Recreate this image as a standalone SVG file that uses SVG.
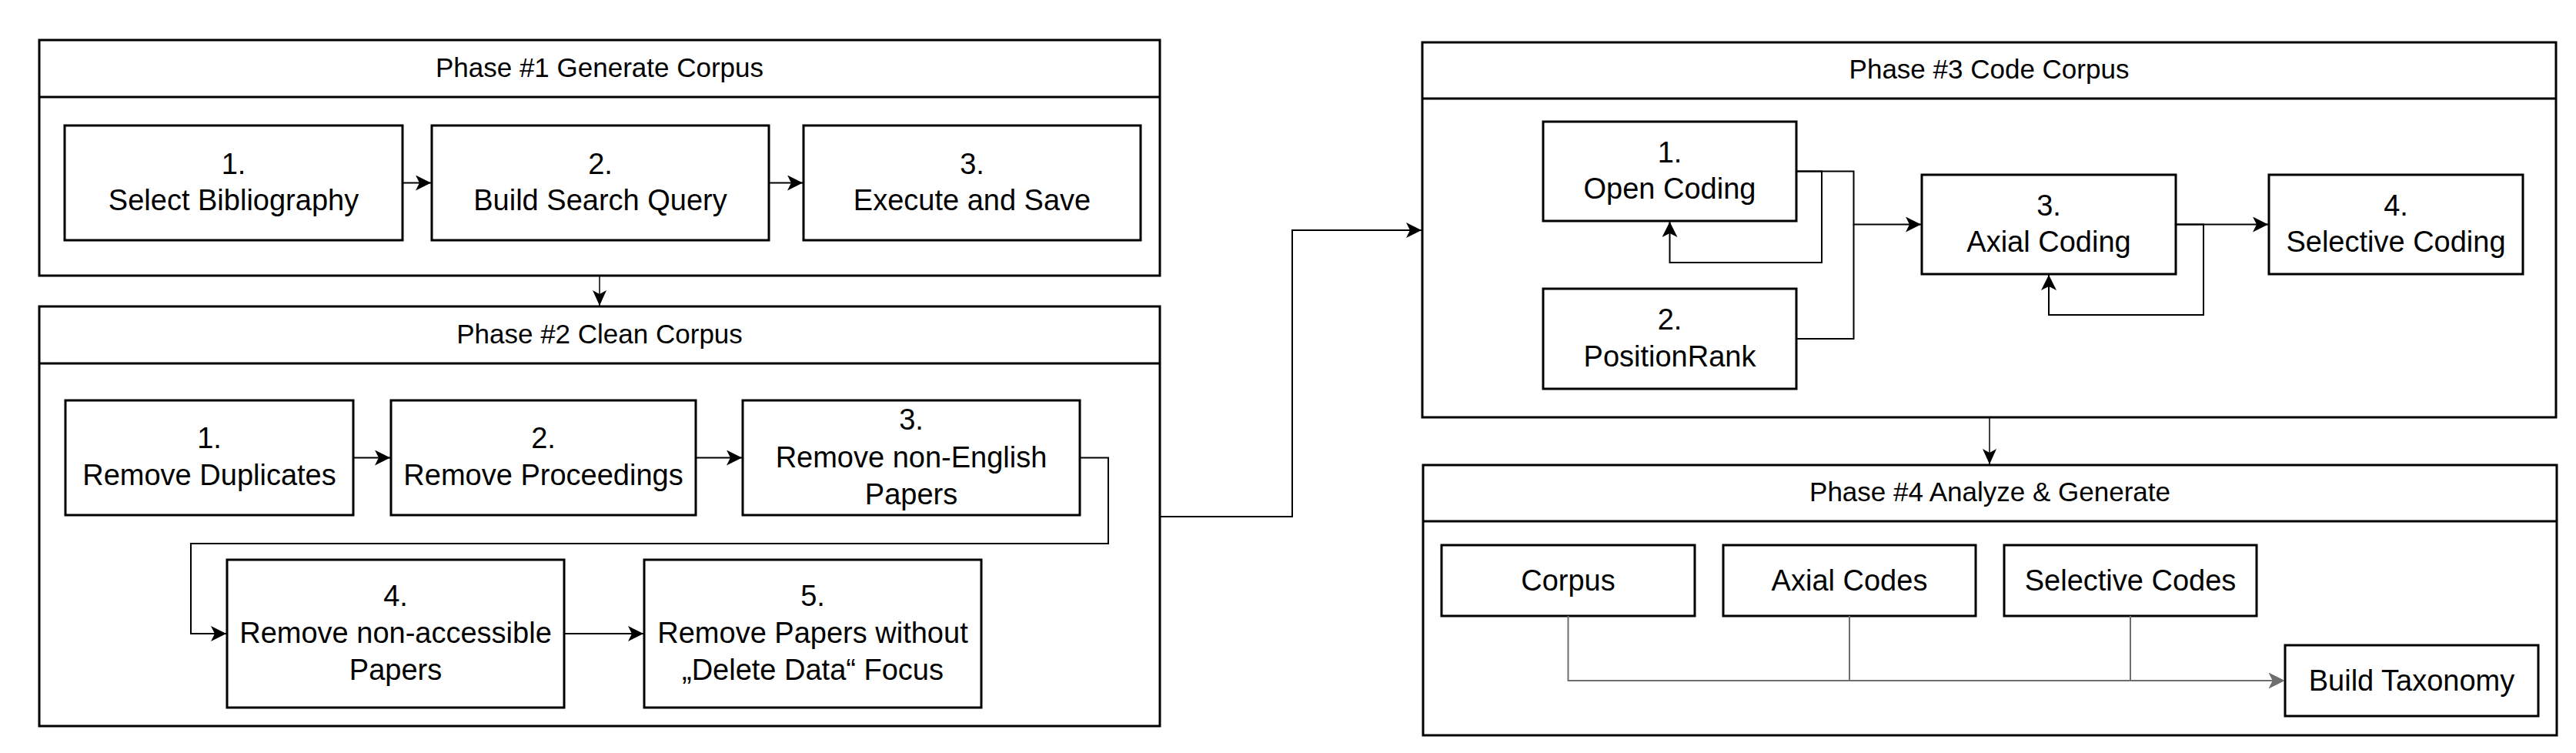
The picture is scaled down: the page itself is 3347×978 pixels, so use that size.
<svg xmlns="http://www.w3.org/2000/svg" width="3347" height="978" viewBox="0 0 3347 978">
<defs>
<marker id="arr" markerUnits="userSpaceOnUse" markerWidth="20" markerHeight="20" refX="20" refY="10" orient="auto"><path d="M0,0 L20,10 L0,20 L5,10 Z" fill="#000"/></marker>
<marker id="arrs" markerUnits="userSpaceOnUse" markerWidth="20" markerHeight="20" refX="20" refY="10" orient="auto"><path d="M0,1 L20,10 L0,19 L5,10 Z" fill="#000"/></marker>
<marker id="arrg" markerUnits="userSpaceOnUse" markerWidth="20" markerHeight="20" refX="20" refY="10" orient="auto"><path d="M0,0 L20,10 L0,20 L5,10 Z" fill="#6e6e6e"/></marker>
</defs>
<style>
.ph{fill:#fff;stroke:#000;stroke-width:3}
.dv{stroke:#000;stroke-width:3}
.bx{fill:#fff;stroke:#000;stroke-width:3}
.t{font-family:"Liberation Sans",Arial,sans-serif;font-size:38px;fill:#000;text-anchor:middle}
.tt{font-family:"Liberation Sans",Arial,sans-serif;font-size:35px;fill:#000;text-anchor:middle}
.c{fill:none;stroke:#000;stroke-width:2}
.cs{fill:none;stroke:#000;stroke-width:1.5}
.cg{fill:none;stroke:#6e6e6e;stroke-width:2}
</style>
<rect width="3347" height="978" fill="#fff"/>

<g id="phase1">
<rect class="ph" x="51" y="52" width="1456" height="306"/>
<line class="dv" x1="51" y1="126" x2="1507" y2="126"/>
<text class="tt" x="779" y="100">Phase #1 Generate Corpus</text>
</g>
<g id="p1s1"><rect class="bx" x="84" y="163" width="439" height="149"/><text class="t" x="303.5" y="226">1.</text><text class="t" x="303.5" y="273">Select Bibliography</text></g>
<g id="p1s2"><rect class="bx" x="561" y="163" width="438" height="149"/><text class="t" x="780" y="226">2.</text><text class="t" x="780" y="273">Build Search Query</text></g>
<g id="p1s3"><rect class="bx" x="1044" y="163" width="438" height="149"/><text class="t" x="1263" y="226">3.</text><text class="t" x="1263" y="273">Execute and Save</text></g>

<g id="phase2">
<rect class="ph" x="51" y="398" width="1456" height="545"/>
<line class="dv" x1="51" y1="472" x2="1507" y2="472"/>
<text class="tt" x="779" y="446">Phase #2 Clean Corpus</text>
</g>
<g id="p2s1"><rect class="bx" x="85" y="520" width="374" height="149"/><text class="t" x="272" y="582">1.</text><text class="t" x="272" y="630">Remove Duplicates</text></g>
<g id="p2s2"><rect class="bx" x="508" y="520" width="396" height="149"/><text class="t" x="706" y="582">2.</text><text class="t" x="706" y="630">Remove Proceedings</text></g>
<g id="p2s3"><rect class="bx" x="965" y="520" width="438" height="149"/><text class="t" x="1184" y="558">3.</text><text class="t" x="1184" y="607">Remove non-English</text><text class="t" x="1184" y="655">Papers</text></g>
<g id="p2s4"><rect class="bx" x="295" y="727" width="438" height="192"/><text class="t" x="514" y="787">4.</text><text class="t" x="514" y="835">Remove non-accessible</text><text class="t" x="514" y="883">Papers</text></g>
<g id="p2s5"><rect class="bx" x="837" y="727" width="438" height="192"/><text class="t" x="1056" y="787">5.</text><text class="t" x="1056" y="835">Remove Papers without</text><text class="t" x="1056" y="883">„Delete Data“ Focus</text></g>

<g id="phase3">
<rect class="ph" x="1848" y="55" width="1473" height="487"/>
<line class="dv" x1="1848" y1="128" x2="3321" y2="128"/>
<text class="tt" x="2584.5" y="102">Phase #3 Code Corpus</text>
</g>
<g id="p3s1"><rect class="bx" x="2005" y="158" width="329" height="129"/><text class="t" x="2169.5" y="210.5">1.</text><text class="t" x="2169.5" y="258">Open Coding</text></g>
<g id="p3s2"><rect class="bx" x="2005" y="375" width="329" height="130"/><text class="t" x="2169.5" y="428">2.</text><text class="t" x="2169.5" y="475.5">PositionRank</text></g>
<g id="p3s3"><rect class="bx" x="2497" y="227" width="330" height="129"/><text class="t" x="2662" y="279.5">3.</text><text class="t" x="2662" y="327">Axial Coding</text></g>
<g id="p3s4"><rect class="bx" x="2948" y="227" width="330" height="129"/><text class="t" x="3113" y="279.5">4.</text><text class="t" x="3113" y="327">Selective Coding</text></g>

<g id="phase4">
<rect class="ph" x="1849" y="604" width="1473" height="351"/>
<line class="dv" x1="1849" y1="677" x2="3322" y2="677"/>
<text class="tt" x="2585.5" y="651">Phase #4 Analyze &amp; Generate</text>
</g>
<g id="p4corpus"><rect class="bx" x="1873" y="708" width="329" height="92"/><text class="t" x="2037.5" y="767">Corpus</text></g>
<g id="p4axial"><rect class="bx" x="2239" y="708" width="328" height="92"/><text class="t" x="2403" y="767">Axial Codes</text></g>
<g id="p4sel"><rect class="bx" x="2604" y="708" width="328" height="92"/><text class="t" x="2768" y="767">Selective Codes</text></g>
<g id="p4tax"><rect class="bx" x="2969" y="838" width="329" height="92"/><text class="t" x="3133.5" y="897">Build Taxonomy</text></g>

<g id="connectors">
<path class="c" d="M523,237.5 H560" marker-end="url(#arr)"/>
<path class="c" d="M999,237.5 H1043" marker-end="url(#arr)"/>
<path class="cs" d="M779,358 V397" marker-end="url(#arrs)"/>
<path class="c" d="M459,594.5 H507" marker-end="url(#arr)"/>
<path class="c" d="M904,594.5 H964" marker-end="url(#arr)"/>
<path class="c" d="M1403,594.5 H1440 V706 H248 V823 H294" marker-end="url(#arr)"/>
<path class="c" d="M733,823 H836" marker-end="url(#arr)"/>
<path class="c" d="M1507,671 H1679 V299 H1847" marker-end="url(#arr)"/>
<path class="c" d="M2334,222.5 H2367 V341 H2169.5 V288" marker-end="url(#arr)"/>
<path class="c" d="M2334,222.5 H2408.5 V291.5 H2496" marker-end="url(#arr)"/>
<path class="c" d="M2334,440 H2408.5 V291.5"/>
<path class="c" d="M2827,291.5 H2947" marker-end="url(#arr)"/>
<path class="c" d="M2827,291.5 H2863 V409 H2662 V357" marker-end="url(#arr)"/>
<path class="cs" d="M2585,542 V603" marker-end="url(#arrs)"/>
<path class="cg" d="M2037.5,800 V884 H2968" marker-end="url(#arrg)"/>
<path class="cg" d="M2403,800 V884 H2968" marker-end="url(#arrg)"/>
<path class="cg" d="M2768,800 V884 H2968" marker-end="url(#arrg)"/>
</g>
</svg>
